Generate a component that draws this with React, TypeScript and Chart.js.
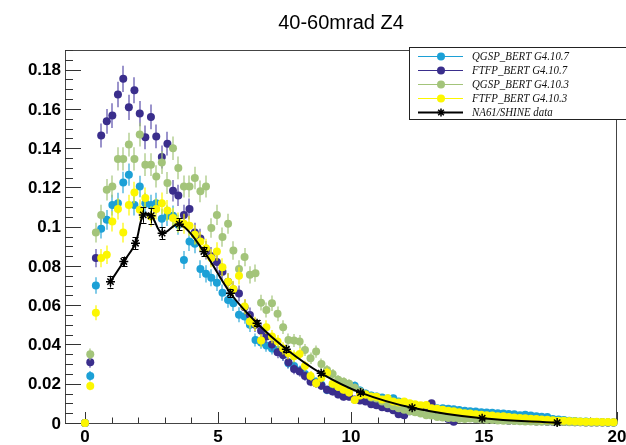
import React, { useEffect, useRef } from 'react';
import { Chart, registerables } from 'chart.js';

Chart.register(...registerables);

const chartTitle = '40-60mrad Z4';
const xRange = [-0.75, 20];
const yRange = [0, 0.19];
const xTickValues = [0, 5, 10, 15, 20];
const xTickLabels = ['0', '5', '10', '15', '20'];
const yTickValues = [0, 0.02, 0.04, 0.06, 0.08, 0.1, 0.12, 0.14, 0.16, 0.18];
const yTickLabels = ['0', '0.02', '0.04', '0.06', '0.08', '0.1', '0.12', '0.14', '0.16', '0.18'];

const seriesLabels = ['QGSP_BERT G4.10.7', 'FTFP_BERT G4.10.7', 'QGSP_BERT G4.10.3', 'FTFP_BERT G4.10.3', 'NA61/SHINE data'];

const binCenters = [0, 0.2, 0.41, 0.61, 0.82, 1.03, 1.24, 1.44, 1.65, 1.86, 2.06, 2.27, 2.48, 2.68, 2.89, 3.1, 3.31, 3.51, 3.72, 3.93, 4.13, 4.34, 4.55, 4.75, 4.96, 5.17, 5.38, 5.58, 5.79, 6.0, 6.2, 6.41, 6.62, 6.82, 7.03, 7.24, 7.45, 7.65, 7.86, 8.07, 8.27, 8.48, 8.69, 8.89, 9.1, 9.31, 9.52, 9.72, 9.93, 10.14, 10.34, 10.55, 10.76, 10.96, 11.17, 11.38, 11.59, 11.79, 12.0, 12.21, 12.41, 12.62, 12.83, 13.03, 13.24, 13.45, 13.66, 13.86, 14.07, 14.28, 14.48, 14.69, 14.9, 15.1, 15.31, 15.52, 15.73, 15.93, 16.14, 16.35, 16.55, 16.76, 16.97, 17.17, 17.38, 17.59, 17.8, 18.0, 18.21, 18.42, 18.62, 18.83, 19.04, 19.24, 19.45, 19.66, 19.87];

const qgsp107 = [0, 0.024, 0.070, 0.099, 0.1035, 0.111, 0.112, 0.1225, 0.1265, 0.111, 0.1205, 0.112, 0.111, 0.112, 0.104, 0.1056, 0.1056, 0.101, 0.083, 0.0925, 0.0913, 0.0784, 0.076, 0.074, 0.0715, 0.0664, 0.0627, 0.061, 0.0551, 0.0542, 0.050, 0.0423, 0.041, 0.0395, 0.038, 0.0372, 0.0347, 0.0304, 0.029, 0.0267, 0.025, 0.023, 0.021, 0.0195, 0.0168, 0.019, 0.0185, 0.018, 0.0194, 0.019, 0.0165, 0.015, 0.014, 0.0135, 0.013, 0.0125, 0.0126, 0.011, 0.0105, 0.0095, 0.009, 0.0083, 0.0083, 0.0078, 0.0075, 0.0075, 0.0072, 0.007, 0.0066, 0.0063, 0.006, 0.0058, 0.0055, 0.0053, 0.0052, 0.005, 0.0048, 0.0046, 0.0044, 0.004, 0.0042, 0.0038, 0.0035, 0.0032, 0.003, 0.002, 0.0018, 0.0015, 0.0012, 0.001, 0.0008, 0.0008, 0.0005, 0.0005, 0.0004, 0.0003, 0.0003];
const qgsp107Err = [0, 0.0025, 0.0042, 0.005, 0.005, 0.0053, 0.0053, 0.0055, 0.0057, 0.0053, 0.0055, 0.0053, 0.0053, 0.0053, 0.0051, 0.0052, 0.0052, 0.0051, 0.0046, 0.0049, 0.0048, 0.0045, 0.0044, 0.0043, 0.0043, 0.0041, 0.004, 0.004, 0.0038, 0.0037, 0.0036, 0.0033, 0.0032, 0.0032, 0.0031, 0.0031, 0.003, 0.0028, 0.0027, 0.0026, 0.0025, 0.0024, 0.0023, 0.0022, 0.0021, 0.0022, 0.0022, 0.0021, 0.0022, 0.0022, 0.0021, 0.002, 0.0019, 0.0019, 0.0018, 0.0018, 0.0018, 0.0017, 0.0016, 0.0016, 0.0015, 0.0015, 0.0015, 0.0014, 0.0014, 0.0014, 0.0014, 0.0013, 0.0013, 0.0013, 0.0012, 0.0012, 0.0012, 0.0012, 0.0012, 0.0011, 0.0011, 0.0011, 0.0011, 0.001, 0.001, 0.001, 0.0009, 0.0009, 0.0009, 0.0007, 0.0007, 0.0006, 0.0006, 0.0005, 0.0005, 0.0005, 0.0004, 0.0004, 0.0003, 0.0003, 0.0003];

const ftfp107 = [0, 0.031, 0.084, 0.1464, 0.1537, 0.1566, 0.1673, 0.1753, 0.1608, 0.1695, 0.1576, 0.1455, 0.1559, 0.146, 0.1355, 0.1423, 0.1183, 0.1159, 0.106, 0.109, 0.097, 0.094, 0.088, 0.085, 0.082, 0.077, 0.072, 0.068, 0.066, 0.059, 0.055, 0.05, 0.047, 0.044, 0.04, 0.036, 0.0347, 0.031, 0.0275, 0.0262, 0.024, 0.021, 0.0202, 0.019, 0.017, 0.016, 0.0145, 0.0134, 0.0134, 0.012, 0.0115, 0.011, 0.0095, 0.009, 0.008, 0.0075, 0.0065, 0.0045, 0.004, 0.006, 0.0065, 0.0075, 0.0085, 0.01, 0.004, 0.003, 0.002, 0.0007, 0.0025, 0.003, 0.0025, 0.0022, 0.002, 0.0022, 0.0018, 0.0015, 0.0015, 0.0012, 0.0013, 0.0012, 0.001, 0.001, 0.0008, 0.0009, 0.0007, 0.0006, 0.0006, 0.0005, 0.0005, 0.0004, 0.0004, 0.0003, 0.0003, 0.0003, 0.0002, 0.0002, 0.0002];
const ftfp107Err = [0, 0.0028, 0.0046, 0.0061, 0.0063, 0.0063, 0.0065, 0.0067, 0.0064, 0.0066, 0.0064, 0.0061, 0.0063, 0.0061, 0.0059, 0.006, 0.0055, 0.0054, 0.0052, 0.0053, 0.005, 0.0049, 0.0047, 0.0047, 0.0046, 0.0044, 0.0043, 0.0042, 0.0041, 0.0039, 0.0038, 0.0036, 0.0035, 0.0034, 0.0032, 0.003, 0.003, 0.0028, 0.0027, 0.0026, 0.0025, 0.0023, 0.0023, 0.0022, 0.0021, 0.002, 0.0019, 0.0019, 0.0019, 0.0018, 0.0017, 0.0017, 0.0016, 0.0015, 0.0014, 0.0014, 0.0013, 0.0011, 0.001, 0.0012, 0.0013, 0.0014, 0.0015, 0.0016, 0.001, 0.0009, 0.0007, 0.0004, 0.0008, 0.0009, 0.0008, 0.0008, 0.0007, 0.0008, 0.0007, 0.0006, 0.0006, 0.0006, 0.0006, 0.0006, 0.0005, 0.0005, 0.0005, 0.0005, 0.0004, 0.0004, 0.0004, 0.0004, 0.0004, 0.0003, 0.0003, 0.0003, 0.0003, 0.0003, 0.0002, 0.0002, 0.0002];

const qgsp103 = [0, 0.035, 0.097, 0.106, 0.1188, 0.1205, 0.1345, 0.1345, 0.1418, 0.1345, 0.1469, 0.1316, 0.1316, 0.1256, 0.1327, 0.1222, 0.14, 0.1299, 0.1205, 0.1205, 0.1248, 0.118, 0.1205, 0.0993, 0.106, 0.0947, 0.1015, 0.0879, 0.0784, 0.0845, 0.0755, 0.0763, 0.0613, 0.0576, 0.061, 0.0556, 0.0488, 0.0423, 0.042, 0.0415, 0.0372, 0.033, 0.0364, 0.03, 0.027, 0.025, 0.022, 0.021, 0.02, 0.018, 0.016, 0.0145, 0.013, 0.0125, 0.011, 0.0095, 0.0085, 0.0075, 0.0068, 0.006, 0.0055, 0.0048, 0.004, 0.0038, 0.003, 0.0028, 0.0025, 0.0025, 0.0022, 0.002, 0.0023, 0.002, 0.0018, 0.0016, 0.0015, 0.0013, 0.0012, 0.0012, 0.001, 0.0009, 0.0008, 0.0008, 0.0007, 0.0007, 0.0006, 0.0006, 0.0005, 0.0005, 0.0004, 0.0004, 0.0004, 0.0003, 0.0003, 0.0003, 0.0003, 0.0002, 0.0002];
const qgsp103Err = [0, 0.003, 0.005, 0.0052, 0.0055, 0.0056, 0.0059, 0.0059, 0.006, 0.0059, 0.0061, 0.0058, 0.0058, 0.0057, 0.0058, 0.0056, 0.006, 0.0058, 0.0056, 0.0056, 0.0057, 0.0055, 0.0056, 0.005, 0.0052, 0.0049, 0.0051, 0.0047, 0.0045, 0.0047, 0.0044, 0.0044, 0.004, 0.0038, 0.004, 0.0038, 0.0035, 0.0033, 0.0033, 0.0033, 0.0031, 0.0029, 0.0031, 0.0028, 0.0026, 0.0025, 0.0024, 0.0023, 0.0023, 0.0021, 0.002, 0.0019, 0.0018, 0.0018, 0.0017, 0.0016, 0.0015, 0.0014, 0.0013, 0.0012, 0.0012, 0.0011, 0.001, 0.001, 0.0009, 0.0008, 0.0008, 0.0008, 0.0008, 0.0007, 0.0008, 0.0007, 0.0007, 0.0006, 0.0006, 0.0006, 0.0006, 0.0006, 0.0005, 0.0005, 0.0005, 0.0005, 0.0004, 0.0004, 0.0004, 0.0004, 0.0004, 0.0004, 0.0003, 0.0003, 0.0003, 0.0003, 0.0003, 0.0003, 0.0003, 0.0002, 0.0002];

const ftfp103 = [0, 0.0189, 0.0562, 0.084, 0.0857, 0.1027, 0.109, 0.097, 0.111, 0.1174, 0.1086, 0.1146, 0.1052, 0.109, 0.112, 0.1083, 0.1044, 0.1021, 0.1015, 0.1005, 0.0959, 0.0925, 0.089, 0.084, 0.0874, 0.0794, 0.072, 0.0682, 0.075, 0.0593, 0.0517, 0.0505, 0.042, 0.0488, 0.044, 0.0415, 0.038, 0.0355, 0.034, 0.0352, 0.029, 0.024, 0.0202, 0.023, 0.0256, 0.02, 0.0185, 0.017, 0.0155, 0.0117, 0.014, 0.0145, 0.0135, 0.0134, 0.012, 0.0126, 0.011, 0.0105, 0.0109, 0.01, 0.0095, 0.009, 0.0092, 0.0075, 0.0072, 0.0068, 0.0062, 0.006, 0.0055, 0.005, 0.0048, 0.0045, 0.0042, 0.004, 0.0038, 0.0035, 0.0034, 0.003, 0.0028, 0.0025, 0.0024, 0.0022, 0.002, 0.0018, 0.0016, 0.0014, 0.0012, 0.0011, 0.001, 0.0009, 0.0008, 0.0007, 0.0006, 0.0006, 0.0005, 0.0005, 0.0004];
const ftfp103Err = [0, 0.0022, 0.0038, 0.0046, 0.0047, 0.0051, 0.0053, 0.005, 0.0053, 0.0055, 0.0053, 0.0054, 0.0052, 0.0053, 0.0054, 0.0053, 0.0052, 0.0051, 0.0051, 0.0051, 0.005, 0.0049, 0.0048, 0.0046, 0.0047, 0.0045, 0.0043, 0.0042, 0.0044, 0.0039, 0.0036, 0.0036, 0.0033, 0.0035, 0.0034, 0.0033, 0.0031, 0.003, 0.003, 0.003, 0.0027, 0.0025, 0.0023, 0.0024, 0.0026, 0.0023, 0.0022, 0.0021, 0.002, 0.0017, 0.0019, 0.0019, 0.0019, 0.0019, 0.0018, 0.0018, 0.0017, 0.0016, 0.0017, 0.0016, 0.0016, 0.0015, 0.0015, 0.0014, 0.0014, 0.0013, 0.0013, 0.0012, 0.0012, 0.0011, 0.0011, 0.0011, 0.001, 0.001, 0.001, 0.0009, 0.0009, 0.0009, 0.0008, 0.0008, 0.0008, 0.0008, 0.0007, 0.0007, 0.0006, 0.0006, 0.0006, 0.0005, 0.0005, 0.0005, 0.0005, 0.0004, 0.0004, 0.0004, 0.0004, 0.0004, 0.0003];

const na61X = [0.96, 1.46, 1.9, 2.19, 2.49, 2.9, 3.55, 4.47, 5.47, 6.47, 7.57, 8.88, 10.36, 12.3, 14.93, 17.75];
const na61Y = [0.072, 0.0823, 0.0916, 0.106, 0.1056, 0.0967, 0.1013, 0.0874, 0.0661, 0.0508, 0.0376, 0.0253, 0.0155, 0.0078, 0.0024, 0.0002];
const na61Err = [0.003, 0.0025, 0.003, 0.004, 0.004, 0.003, 0.003, 0.0025, 0.002, 0.0015, 0.0012, 0.001, 0.0008, 0.0006, 0.0004, 0.0003];

const colors = ['rgb(28,160,214)', 'rgb(58,46,140)', 'rgb(163,196,122)', 'rgb(252,246,0)', 'rgb(0,0,0)'];
const errColors = ['rgba(28,160,214,0.55)', 'rgba(88,76,170,0.6)', 'rgba(163,196,122,0.6)', 'rgba(252,246,0,0.6)', 'rgb(0,0,0)'];

const FONT_SANS = '"Liberation Sans", Arial, Helvetica, sans-serif';
const FONT_SERIF = '"Liberation Serif", "Times New Roman", serif';

const rootPlugin = {
  id: 'rootPlugin',
  beforeDatasetsDraw(chart: any) {
    const ctx = chart.ctx;
    const a = chart.chartArea;
    const xs = chart.scales.x;
    const ys = chart.scales.y;
    ctx.save();
    // title
    ctx.fillStyle = '#000';
    ctx.font = '20px ' + FONT_SANS;
    ctx.textAlign = 'center';
    ctx.textBaseline = 'middle';
    ctx.fillText(chartTitle, 341, 23);
    // frame
    ctx.strokeStyle = '#444';
    ctx.lineWidth = 1;
    ctx.strokeRect(a.left + 0.5, a.top + 0.5, a.right - a.left - 1, a.bottom - a.top);
    // y ticks
    ctx.strokeStyle = '#333';
    for (let i = 0; i * 0.005 <= yRange[1] + 1e-9; i++) {
      const py = Math.round(ys.getPixelForValue(i * 0.005)) + 0.5;
      const len = i % 4 === 0 ? 16 : 8;
      ctx.beginPath();
      ctx.moveTo(a.left, py);
      ctx.lineTo(a.left + len, py);
      ctx.stroke();
    }
    // x ticks
    for (let i = 0; i <= 20; i++) {
      const px = Math.round(xs.getPixelForValue(i)) + 0.5;
      const len = i % 5 === 0 ? 11 : 5.5;
      ctx.beginPath();
      ctx.moveTo(px, a.bottom);
      ctx.lineTo(px, a.bottom - len);
      ctx.stroke();
    }
    // labels
    ctx.fillStyle = '#000';
    ctx.font = 'bold 17px ' + FONT_SANS;
    ctx.textAlign = 'right';
    ctx.textBaseline = 'middle';
    yTickValues.forEach((v, i) => {
      ctx.fillText(yTickLabels[i], a.left - 4, ys.getPixelForValue(v) + 1);
    });
    ctx.textAlign = 'center';
    ctx.textBaseline = 'top';
    xTickValues.forEach((v, i) => {
      ctx.fillText(xTickLabels[i], xs.getPixelForValue(v), a.bottom + 6);
    });
    ctx.restore();
  },
  beforeDatasetDraw(chart: any, args: any) {
    const ds = chart.data.datasets[args.index];
    const errs = ds.errs;
    if (!errs) return;
    const ctx = chart.ctx;
    const xs = chart.scales.x;
    const ys = chart.scales.y;
    ctx.save();
    ctx.strokeStyle = ds.errColor;
    ctx.lineWidth = ds.errWidth;
    ds.data.forEach((p: any, i: number) => {
      const e = errs[i];
      if (!e) return;
      const px = Math.round(xs.getPixelForValue(p.x)) + (ds.errWidth === 1 ? 0.5 : 0);
      const y1 = ys.getPixelForValue(p.y - e);
      const y2 = ys.getPixelForValue(p.y + e);
      ctx.beginPath();
      ctx.moveTo(px, y1);
      ctx.lineTo(px, y2);
      if (ds.errCap) {
        ctx.moveTo(px - 3, Math.round(y1) + 0.5);
        ctx.lineTo(px + 3, Math.round(y1) + 0.5);
        ctx.moveTo(px - 3, Math.round(y2) + 0.5);
        ctx.lineTo(px + 3, Math.round(y2) + 0.5);
      }
      ctx.stroke();
    });
    ctx.restore();
  },
  afterDraw(chart: any) {
    const ctx = chart.ctx;
    ctx.save();
    const bx = 409.5, by = 47.5, bw = 240, bh = 72;
    ctx.fillStyle = '#fff';
    ctx.fillRect(bx, by, bw, bh);
    ctx.strokeStyle = '#222';
    ctx.lineWidth = 1;
    ctx.strokeRect(bx, by, bw, bh);
    ctx.font = 'italic 13px ' + FONT_SERIF;
    const w0 = ctx.measureText(seriesLabels[0]).width;
    const sx = w0 > 0 ? 97 / w0 : 1;
    seriesLabels.forEach((lab, i) => {
      const cy = 56 + i * 14;
      const isData = i === 4;
      ctx.strokeStyle = colors[i];
      ctx.lineWidth = isData ? 2 : 1;
      ctx.beginPath();
      ctx.moveTo(418, cy + 0.5);
      ctx.lineTo(463, cy + 0.5);
      ctx.stroke();
      if (isData) {
        ctx.lineWidth = 1.5;
        ctx.beginPath();
        for (let k = 0; k < 4; k++) {
          const ang = (k * Math.PI) / 4;
          ctx.moveTo(441 - 4 * Math.cos(ang), cy + 0.5 - 4 * Math.sin(ang));
          ctx.lineTo(441 + 4 * Math.cos(ang), cy + 0.5 + 4 * Math.sin(ang));
        }
        ctx.stroke();
      } else {
        ctx.fillStyle = colors[i];
        ctx.beginPath();
        ctx.arc(441, cy + 0.5, 4, 0, Math.PI * 2);
        ctx.fill();
      }
      ctx.save();
      ctx.fillStyle = '#111';
      ctx.textAlign = 'left';
      ctx.textBaseline = 'middle';
      ctx.translate(472, cy + 1);
      ctx.scale(sx, 1);
      ctx.fillText(lab, 0, 0);
      ctx.restore();
    });
    ctx.restore();
  },
};

function simDataset(idx: number, ys: number[], errs: number[], order: number) {
  return {
    label: seriesLabels[idx],
    data: binCenters.map((x, i) => ({ x, y: ys[i] })),
    showLine: false,
    pointStyle: 'circle',
    pointRadius: 4,
    pointHoverRadius: 4,
    pointBorderWidth: 0,
    pointBackgroundColor: colors[idx],
    pointBorderColor: colors[idx],
    backgroundColor: colors[idx],
    borderColor: colors[idx],
    order,
    clip: false,
    errs,
    errColor: errColors[idx],
    errWidth: 2,
    errCap: false,
  };
}

export default function App() {
  const ref = useRef<HTMLCanvasElement | null>(null);
  useEffect(() => {
    if (!ref.current) return;
    const datasets: any[] = [
      simDataset(0, qgsp107, qgsp107Err, 4),
      simDataset(1, ftfp107, ftfp107Err, 3),
      simDataset(2, qgsp103, qgsp103Err, 2),
      simDataset(3, ftfp103, ftfp103Err, 1),
      {
        label: seriesLabels[4],
        data: na61X.map((x, i) => ({ x, y: na61Y[i] })),
        showLine: true,
        tension: 0.35,
        borderColor: '#000',
        borderWidth: 2,
        pointStyle: 'star',
        pointRadius: 4.5,
        pointHoverRadius: 4.5,
        pointBorderWidth: 1.5,
        pointBorderColor: '#000',
        pointBackgroundColor: '#000',
        order: 0,
        clip: false,
        errs: na61Err,
        errColor: '#000',
        errWidth: 1,
        errCap: true,
      },
    ];
    const chart = new Chart(ref.current, {
      type: 'scatter',
      data: { datasets },
      options: {
        responsive: false,
        devicePixelRatio: 1,
        animation: false,
        events: [],
        layout: { autoPadding: false, padding: { left: 65, right: 9, top: 50, bottom: 22 } },
        scales: {
          x: { type: 'linear', min: xRange[0], max: xRange[1], display: false },
          y: { type: 'linear', min: yRange[0], max: yRange[1], display: false },
        },
        plugins: {
          legend: { display: false },
          title: { display: false },
          tooltip: { enabled: false },
        },
      } as any,
      plugins: [rootPlugin as any],
    });
    return () => chart.destroy();
  }, []);
  return (
    <div style={{ position: 'absolute', left: 0, top: 0, width: 626, height: 445, background: '#fff' }}>
      <canvas ref={ref} width={626} height={445} style={{ display: 'block' }} />
    </div>
  );
}
